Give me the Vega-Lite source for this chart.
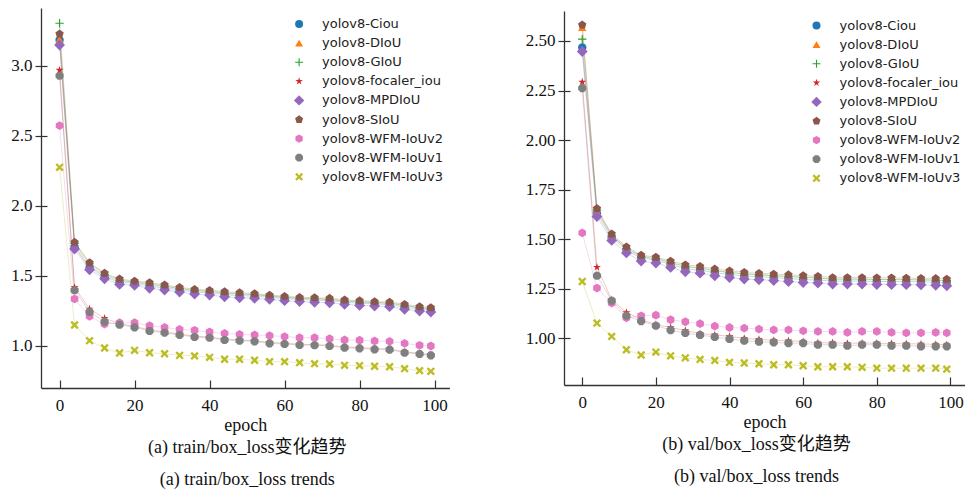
{
"$schema": "https://vega.github.io/schema/vega-lite/v6.json",
"padding": {"left": 10, "top": 8, "right": 0, "bottom": 0},
"spacing": 75,
"center": true,
"config": {
  "view": {"stroke": null},
  "axis": {"labelFont": "Liberation Serif", "labelFontSize": 17, "labelColor": "#111", "titleFont": "Liberation Serif", "titleFontSize": 18, "titleFontWeight": "normal", "titleColor": "#111", "domainColor": "#333", "tickColor": "#333", "domainWidth": 1.3, "tickWidth": 1.2, "grid": false},
  "legend": {"labelFont": "DejaVu Sans", "labelFontSize": 13, "labelColor": "#222", "symbolSize": 64, "rowPadding": 5.1, "padding": 4, "labelOffset": 16.5, "symbolStrokeWidth": 0, "symbolOpacity": 1},
  "title": {"font": "Liberation Serif, Noto Sans CJK SC", "fontSize": 18, "fontWeight": "normal", "color": "#111"}
},
"datasets": {
"train": [
{"s":"yolov8-Ciou","e":0,"v":3.186},{"s":"yolov8-Ciou","e":4,"v":1.708},{"s":"yolov8-Ciou","e":8,"v":1.56},{"s":"yolov8-Ciou","e":12,"v":1.495},{"s":"yolov8-Ciou","e":16,"v":1.455},{"s":"yolov8-Ciou","e":20,"v":1.448},{"s":"yolov8-Ciou","e":24,"v":1.427},{"s":"yolov8-Ciou","e":28,"v":1.415},{"s":"yolov8-Ciou","e":32,"v":1.401},{"s":"yolov8-Ciou","e":36,"v":1.386},{"s":"yolov8-Ciou","e":40,"v":1.379},{"s":"yolov8-Ciou","e":44,"v":1.367},{"s":"yolov8-Ciou","e":48,"v":1.36},{"s":"yolov8-Ciou","e":52,"v":1.356},{"s":"yolov8-Ciou","e":56,"v":1.348},{"s":"yolov8-Ciou","e":60,"v":1.339},{"s":"yolov8-Ciou","e":64,"v":1.332},{"s":"yolov8-Ciou","e":68,"v":1.327},{"s":"yolov8-Ciou","e":72,"v":1.324},{"s":"yolov8-Ciou","e":76,"v":1.313},{"s":"yolov8-Ciou","e":80,"v":1.305},{"s":"yolov8-Ciou","e":84,"v":1.301},{"s":"yolov8-Ciou","e":88,"v":1.296},{"s":"yolov8-Ciou","e":92,"v":1.277},{"s":"yolov8-Ciou","e":96,"v":1.265},{"s":"yolov8-Ciou","e":99,"v":1.258},
{"s":"yolov8-DIoU","e":0,"v":3.19},{"s":"yolov8-DIoU","e":4,"v":1.718},{"s":"yolov8-DIoU","e":8,"v":1.57},{"s":"yolov8-DIoU","e":12,"v":1.505},{"s":"yolov8-DIoU","e":16,"v":1.465},{"s":"yolov8-DIoU","e":20,"v":1.458},{"s":"yolov8-DIoU","e":24,"v":1.437},{"s":"yolov8-DIoU","e":28,"v":1.425},{"s":"yolov8-DIoU","e":32,"v":1.411},{"s":"yolov8-DIoU","e":36,"v":1.396},{"s":"yolov8-DIoU","e":40,"v":1.389},{"s":"yolov8-DIoU","e":44,"v":1.377},{"s":"yolov8-DIoU","e":48,"v":1.37},{"s":"yolov8-DIoU","e":52,"v":1.366},{"s":"yolov8-DIoU","e":56,"v":1.358},{"s":"yolov8-DIoU","e":60,"v":1.349},{"s":"yolov8-DIoU","e":64,"v":1.342},{"s":"yolov8-DIoU","e":68,"v":1.337},{"s":"yolov8-DIoU","e":72,"v":1.334},{"s":"yolov8-DIoU","e":76,"v":1.323},{"s":"yolov8-DIoU","e":80,"v":1.315},{"s":"yolov8-DIoU","e":84,"v":1.311},{"s":"yolov8-DIoU","e":88,"v":1.306},{"s":"yolov8-DIoU","e":92,"v":1.287},{"s":"yolov8-DIoU","e":96,"v":1.275},{"s":"yolov8-DIoU","e":99,"v":1.268},
{"s":"yolov8-GIoU","e":0,"v":3.305},{"s":"yolov8-GIoU","e":4,"v":1.733},{"s":"yolov8-GIoU","e":8,"v":1.587},{"s":"yolov8-GIoU","e":12,"v":1.512},{"s":"yolov8-GIoU","e":16,"v":1.471},{"s":"yolov8-GIoU","e":20,"v":1.456},{"s":"yolov8-GIoU","e":24,"v":1.444},{"s":"yolov8-GIoU","e":28,"v":1.428},{"s":"yolov8-GIoU","e":32,"v":1.411},{"s":"yolov8-GIoU","e":36,"v":1.397},{"s":"yolov8-GIoU","e":40,"v":1.39},{"s":"yolov8-GIoU","e":44,"v":1.38},{"s":"yolov8-GIoU","e":48,"v":1.373},{"s":"yolov8-GIoU","e":52,"v":1.366},{"s":"yolov8-GIoU","e":56,"v":1.356},{"s":"yolov8-GIoU","e":60,"v":1.347},{"s":"yolov8-GIoU","e":64,"v":1.34},{"s":"yolov8-GIoU","e":68,"v":1.337},{"s":"yolov8-GIoU","e":72,"v":1.333},{"s":"yolov8-GIoU","e":76,"v":1.321},{"s":"yolov8-GIoU","e":80,"v":1.316},{"s":"yolov8-GIoU","e":84,"v":1.309},{"s":"yolov8-GIoU","e":88,"v":1.306},{"s":"yolov8-GIoU","e":92,"v":1.29},{"s":"yolov8-GIoU","e":96,"v":1.273},{"s":"yolov8-GIoU","e":99,"v":1.266},
{"s":"yolov8-focaler_iou","e":0,"v":2.97},{"s":"yolov8-focaler_iou","e":4,"v":1.419},{"s":"yolov8-focaler_iou","e":8,"v":1.264},{"s":"yolov8-focaler_iou","e":12,"v":1.198},{"s":"yolov8-focaler_iou","e":16,"v":1.16},{"s":"yolov8-focaler_iou","e":20,"v":1.14},{"s":"yolov8-focaler_iou","e":24,"v":1.115},{"s":"yolov8-focaler_iou","e":28,"v":1.1},{"s":"yolov8-focaler_iou","e":32,"v":1.085},{"s":"yolov8-focaler_iou","e":36,"v":1.07},{"s":"yolov8-focaler_iou","e":40,"v":1.063},{"s":"yolov8-focaler_iou","e":44,"v":1.05},{"s":"yolov8-focaler_iou","e":48,"v":1.043},{"s":"yolov8-focaler_iou","e":52,"v":1.038},{"s":"yolov8-focaler_iou","e":56,"v":1.025},{"s":"yolov8-focaler_iou","e":60,"v":1.02},{"s":"yolov8-focaler_iou","e":64,"v":1.012},{"s":"yolov8-focaler_iou","e":68,"v":1.01},{"s":"yolov8-focaler_iou","e":72,"v":1.005},{"s":"yolov8-focaler_iou","e":76,"v":0.993},{"s":"yolov8-focaler_iou","e":80,"v":0.988},{"s":"yolov8-focaler_iou","e":84,"v":0.982},{"s":"yolov8-focaler_iou","e":88,"v":0.979},{"s":"yolov8-focaler_iou","e":92,"v":0.958},{"s":"yolov8-focaler_iou","e":96,"v":0.947},{"s":"yolov8-focaler_iou","e":99,"v":0.937},
{"s":"yolov8-MPDIoU","e":0,"v":3.15},{"s":"yolov8-MPDIoU","e":4,"v":1.693},{"s":"yolov8-MPDIoU","e":8,"v":1.545},{"s":"yolov8-MPDIoU","e":12,"v":1.48},{"s":"yolov8-MPDIoU","e":16,"v":1.44},{"s":"yolov8-MPDIoU","e":20,"v":1.433},{"s":"yolov8-MPDIoU","e":24,"v":1.412},{"s":"yolov8-MPDIoU","e":28,"v":1.4},{"s":"yolov8-MPDIoU","e":32,"v":1.386},{"s":"yolov8-MPDIoU","e":36,"v":1.371},{"s":"yolov8-MPDIoU","e":40,"v":1.364},{"s":"yolov8-MPDIoU","e":44,"v":1.352},{"s":"yolov8-MPDIoU","e":48,"v":1.345},{"s":"yolov8-MPDIoU","e":52,"v":1.341},{"s":"yolov8-MPDIoU","e":56,"v":1.333},{"s":"yolov8-MPDIoU","e":60,"v":1.324},{"s":"yolov8-MPDIoU","e":64,"v":1.317},{"s":"yolov8-MPDIoU","e":68,"v":1.312},{"s":"yolov8-MPDIoU","e":72,"v":1.309},{"s":"yolov8-MPDIoU","e":76,"v":1.298},{"s":"yolov8-MPDIoU","e":80,"v":1.29},{"s":"yolov8-MPDIoU","e":84,"v":1.286},{"s":"yolov8-MPDIoU","e":88,"v":1.281},{"s":"yolov8-MPDIoU","e":92,"v":1.262},{"s":"yolov8-MPDIoU","e":96,"v":1.25},{"s":"yolov8-MPDIoU","e":99,"v":1.243},
{"s":"yolov8-SIoU","e":0,"v":3.229},{"s":"yolov8-SIoU","e":4,"v":1.741},{"s":"yolov8-SIoU","e":8,"v":1.595},{"s":"yolov8-SIoU","e":12,"v":1.52},{"s":"yolov8-SIoU","e":16,"v":1.479},{"s":"yolov8-SIoU","e":20,"v":1.464},{"s":"yolov8-SIoU","e":24,"v":1.452},{"s":"yolov8-SIoU","e":28,"v":1.436},{"s":"yolov8-SIoU","e":32,"v":1.419},{"s":"yolov8-SIoU","e":36,"v":1.405},{"s":"yolov8-SIoU","e":40,"v":1.398},{"s":"yolov8-SIoU","e":44,"v":1.388},{"s":"yolov8-SIoU","e":48,"v":1.381},{"s":"yolov8-SIoU","e":52,"v":1.374},{"s":"yolov8-SIoU","e":56,"v":1.364},{"s":"yolov8-SIoU","e":60,"v":1.355},{"s":"yolov8-SIoU","e":64,"v":1.348},{"s":"yolov8-SIoU","e":68,"v":1.345},{"s":"yolov8-SIoU","e":72,"v":1.341},{"s":"yolov8-SIoU","e":76,"v":1.329},{"s":"yolov8-SIoU","e":80,"v":1.324},{"s":"yolov8-SIoU","e":84,"v":1.317},{"s":"yolov8-SIoU","e":88,"v":1.314},{"s":"yolov8-SIoU","e":92,"v":1.298},{"s":"yolov8-SIoU","e":96,"v":1.281},{"s":"yolov8-SIoU","e":99,"v":1.274},
{"s":"yolov8-WFM-IoUv2","e":0,"v":2.574},{"s":"yolov8-WFM-IoUv2","e":4,"v":1.336},{"s":"yolov8-WFM-IoUv2","e":8,"v":1.212},{"s":"yolov8-WFM-IoUv2","e":12,"v":1.157},{"s":"yolov8-WFM-IoUv2","e":16,"v":1.166},{"s":"yolov8-WFM-IoUv2","e":20,"v":1.166},{"s":"yolov8-WFM-IoUv2","e":24,"v":1.145},{"s":"yolov8-WFM-IoUv2","e":28,"v":1.133},{"s":"yolov8-WFM-IoUv2","e":32,"v":1.119},{"s":"yolov8-WFM-IoUv2","e":36,"v":1.112},{"s":"yolov8-WFM-IoUv2","e":40,"v":1.1},{"s":"yolov8-WFM-IoUv2","e":44,"v":1.09},{"s":"yolov8-WFM-IoUv2","e":48,"v":1.083},{"s":"yolov8-WFM-IoUv2","e":52,"v":1.079},{"s":"yolov8-WFM-IoUv2","e":56,"v":1.074},{"s":"yolov8-WFM-IoUv2","e":60,"v":1.067},{"s":"yolov8-WFM-IoUv2","e":64,"v":1.059},{"s":"yolov8-WFM-IoUv2","e":68,"v":1.059},{"s":"yolov8-WFM-IoUv2","e":72,"v":1.052},{"s":"yolov8-WFM-IoUv2","e":76,"v":1.043},{"s":"yolov8-WFM-IoUv2","e":80,"v":1.041},{"s":"yolov8-WFM-IoUv2","e":84,"v":1.036},{"s":"yolov8-WFM-IoUv2","e":88,"v":1.033},{"s":"yolov8-WFM-IoUv2","e":92,"v":1.019},{"s":"yolov8-WFM-IoUv2","e":96,"v":1.005},{"s":"yolov8-WFM-IoUv2","e":99,"v":1.0},
{"s":"yolov8-WFM-IoUv1","e":0,"v":2.93},{"s":"yolov8-WFM-IoUv1","e":4,"v":1.398},{"s":"yolov8-WFM-IoUv1","e":8,"v":1.243},{"s":"yolov8-WFM-IoUv1","e":12,"v":1.174},{"s":"yolov8-WFM-IoUv1","e":16,"v":1.152},{"s":"yolov8-WFM-IoUv1","e":20,"v":1.133},{"s":"yolov8-WFM-IoUv1","e":24,"v":1.107},{"s":"yolov8-WFM-IoUv1","e":28,"v":1.095},{"s":"yolov8-WFM-IoUv1","e":32,"v":1.079},{"s":"yolov8-WFM-IoUv1","e":36,"v":1.064},{"s":"yolov8-WFM-IoUv1","e":40,"v":1.059},{"s":"yolov8-WFM-IoUv1","e":44,"v":1.043},{"s":"yolov8-WFM-IoUv1","e":48,"v":1.038},{"s":"yolov8-WFM-IoUv1","e":52,"v":1.033},{"s":"yolov8-WFM-IoUv1","e":56,"v":1.019},{"s":"yolov8-WFM-IoUv1","e":60,"v":1.014},{"s":"yolov8-WFM-IoUv1","e":64,"v":1.007},{"s":"yolov8-WFM-IoUv1","e":68,"v":1.005},{"s":"yolov8-WFM-IoUv1","e":72,"v":1.0},{"s":"yolov8-WFM-IoUv1","e":76,"v":0.988},{"s":"yolov8-WFM-IoUv1","e":80,"v":0.983},{"s":"yolov8-WFM-IoUv1","e":84,"v":0.976},{"s":"yolov8-WFM-IoUv1","e":88,"v":0.974},{"s":"yolov8-WFM-IoUv1","e":92,"v":0.952},{"s":"yolov8-WFM-IoUv1","e":96,"v":0.943},{"s":"yolov8-WFM-IoUv1","e":99,"v":0.933},
{"s":"yolov8-WFM-IoUv3","e":0,"v":2.276},{"s":"yolov8-WFM-IoUv3","e":4,"v":1.15},{"s":"yolov8-WFM-IoUv3","e":8,"v":1.038},{"s":"yolov8-WFM-IoUv3","e":12,"v":0.986},{"s":"yolov8-WFM-IoUv3","e":16,"v":0.95},{"s":"yolov8-WFM-IoUv3","e":20,"v":0.969},{"s":"yolov8-WFM-IoUv3","e":24,"v":0.952},{"s":"yolov8-WFM-IoUv3","e":28,"v":0.945},{"s":"yolov8-WFM-IoUv3","e":32,"v":0.933},{"s":"yolov8-WFM-IoUv3","e":36,"v":0.929},{"s":"yolov8-WFM-IoUv3","e":40,"v":0.919},{"s":"yolov8-WFM-IoUv3","e":44,"v":0.905},{"s":"yolov8-WFM-IoUv3","e":48,"v":0.905},{"s":"yolov8-WFM-IoUv3","e":52,"v":0.898},{"s":"yolov8-WFM-IoUv3","e":56,"v":0.888},{"s":"yolov8-WFM-IoUv3","e":60,"v":0.888},{"s":"yolov8-WFM-IoUv3","e":64,"v":0.881},{"s":"yolov8-WFM-IoUv3","e":68,"v":0.874},{"s":"yolov8-WFM-IoUv3","e":72,"v":0.871},{"s":"yolov8-WFM-IoUv3","e":76,"v":0.862},{"s":"yolov8-WFM-IoUv3","e":80,"v":0.86},{"s":"yolov8-WFM-IoUv3","e":84,"v":0.855},{"s":"yolov8-WFM-IoUv3","e":88,"v":0.852},{"s":"yolov8-WFM-IoUv3","e":92,"v":0.838},{"s":"yolov8-WFM-IoUv3","e":96,"v":0.824},{"s":"yolov8-WFM-IoUv3","e":99,"v":0.819}
],
"val": [
{"s":"yolov8-Ciou","e":0,"v":2.467},{"s":"yolov8-Ciou","e":4,"v":1.63},{"s":"yolov8-Ciou","e":8,"v":1.509},{"s":"yolov8-Ciou","e":12,"v":1.446},{"s":"yolov8-Ciou","e":16,"v":1.405},{"s":"yolov8-Ciou","e":20,"v":1.395},{"s":"yolov8-Ciou","e":24,"v":1.373},{"s":"yolov8-Ciou","e":28,"v":1.351},{"s":"yolov8-Ciou","e":32,"v":1.344},{"s":"yolov8-Ciou","e":36,"v":1.331},{"s":"yolov8-Ciou","e":40,"v":1.322},{"s":"yolov8-Ciou","e":44,"v":1.314},{"s":"yolov8-Ciou","e":48,"v":1.311},{"s":"yolov8-Ciou","e":52,"v":1.307},{"s":"yolov8-Ciou","e":56,"v":1.302},{"s":"yolov8-Ciou","e":60,"v":1.297},{"s":"yolov8-Ciou","e":64,"v":1.294},{"s":"yolov8-Ciou","e":68,"v":1.289},{"s":"yolov8-Ciou","e":72,"v":1.289},{"s":"yolov8-Ciou","e":76,"v":1.289},{"s":"yolov8-Ciou","e":80,"v":1.287},{"s":"yolov8-Ciou","e":84,"v":1.287},{"s":"yolov8-Ciou","e":88,"v":1.286},{"s":"yolov8-Ciou","e":92,"v":1.285},{"s":"yolov8-Ciou","e":96,"v":1.283},{"s":"yolov8-Ciou","e":99,"v":1.28},
{"s":"yolov8-DIoU","e":0,"v":2.568},{"s":"yolov8-DIoU","e":4,"v":1.64},{"s":"yolov8-DIoU","e":8,"v":1.519},{"s":"yolov8-DIoU","e":12,"v":1.456},{"s":"yolov8-DIoU","e":16,"v":1.415},{"s":"yolov8-DIoU","e":20,"v":1.405},{"s":"yolov8-DIoU","e":24,"v":1.383},{"s":"yolov8-DIoU","e":28,"v":1.361},{"s":"yolov8-DIoU","e":32,"v":1.354},{"s":"yolov8-DIoU","e":36,"v":1.341},{"s":"yolov8-DIoU","e":40,"v":1.332},{"s":"yolov8-DIoU","e":44,"v":1.324},{"s":"yolov8-DIoU","e":48,"v":1.321},{"s":"yolov8-DIoU","e":52,"v":1.317},{"s":"yolov8-DIoU","e":56,"v":1.312},{"s":"yolov8-DIoU","e":60,"v":1.307},{"s":"yolov8-DIoU","e":64,"v":1.304},{"s":"yolov8-DIoU","e":68,"v":1.299},{"s":"yolov8-DIoU","e":72,"v":1.299},{"s":"yolov8-DIoU","e":76,"v":1.299},{"s":"yolov8-DIoU","e":80,"v":1.297},{"s":"yolov8-DIoU","e":84,"v":1.297},{"s":"yolov8-DIoU","e":88,"v":1.296},{"s":"yolov8-DIoU","e":92,"v":1.295},{"s":"yolov8-DIoU","e":96,"v":1.293},{"s":"yolov8-DIoU","e":99,"v":1.29},
{"s":"yolov8-GIoU","e":0,"v":2.509},{"s":"yolov8-GIoU","e":4,"v":1.647},{"s":"yolov8-GIoU","e":8,"v":1.519},{"s":"yolov8-GIoU","e":12,"v":1.454},{"s":"yolov8-GIoU","e":16,"v":1.412},{"s":"yolov8-GIoU","e":20,"v":1.402},{"s":"yolov8-GIoU","e":24,"v":1.382},{"s":"yolov8-GIoU","e":28,"v":1.363},{"s":"yolov8-GIoU","e":32,"v":1.355},{"s":"yolov8-GIoU","e":36,"v":1.342},{"s":"yolov8-GIoU","e":40,"v":1.333},{"s":"yolov8-GIoU","e":44,"v":1.325},{"s":"yolov8-GIoU","e":48,"v":1.32},{"s":"yolov8-GIoU","e":52,"v":1.316},{"s":"yolov8-GIoU","e":56,"v":1.313},{"s":"yolov8-GIoU","e":60,"v":1.308},{"s":"yolov8-GIoU","e":64,"v":1.305},{"s":"yolov8-GIoU","e":68,"v":1.299},{"s":"yolov8-GIoU","e":72,"v":1.299},{"s":"yolov8-GIoU","e":76,"v":1.299},{"s":"yolov8-GIoU","e":80,"v":1.297},{"s":"yolov8-GIoU","e":84,"v":1.297},{"s":"yolov8-GIoU","e":88,"v":1.296},{"s":"yolov8-GIoU","e":92,"v":1.295},{"s":"yolov8-GIoU","e":96,"v":1.294},{"s":"yolov8-GIoU","e":99,"v":1.291},
{"s":"yolov8-focaler_iou","e":0,"v":2.293},{"s":"yolov8-focaler_iou","e":4,"v":1.359},{"s":"yolov8-focaler_iou","e":8,"v":1.195},{"s":"yolov8-focaler_iou","e":12,"v":1.131},{"s":"yolov8-focaler_iou","e":16,"v":1.095},{"s":"yolov8-focaler_iou","e":20,"v":1.07},{"s":"yolov8-focaler_iou","e":24,"v":1.055},{"s":"yolov8-focaler_iou","e":28,"v":1.04},{"s":"yolov8-focaler_iou","e":32,"v":1.025},{"s":"yolov8-focaler_iou","e":36,"v":1.018},{"s":"yolov8-focaler_iou","e":40,"v":1.01},{"s":"yolov8-focaler_iou","e":44,"v":1.0},{"s":"yolov8-focaler_iou","e":48,"v":0.995},{"s":"yolov8-focaler_iou","e":52,"v":0.99},{"s":"yolov8-focaler_iou","e":56,"v":0.988},{"s":"yolov8-focaler_iou","e":60,"v":0.985},{"s":"yolov8-focaler_iou","e":64,"v":0.978},{"s":"yolov8-focaler_iou","e":68,"v":0.978},{"s":"yolov8-focaler_iou","e":72,"v":0.975},{"s":"yolov8-focaler_iou","e":76,"v":0.977},{"s":"yolov8-focaler_iou","e":80,"v":0.976},{"s":"yolov8-focaler_iou","e":84,"v":0.974},{"s":"yolov8-focaler_iou","e":88,"v":0.973},{"s":"yolov8-focaler_iou","e":92,"v":0.972},{"s":"yolov8-focaler_iou","e":96,"v":0.97},{"s":"yolov8-focaler_iou","e":99,"v":0.968},
{"s":"yolov8-MPDIoU","e":0,"v":2.447},{"s":"yolov8-MPDIoU","e":4,"v":1.615},{"s":"yolov8-MPDIoU","e":8,"v":1.494},{"s":"yolov8-MPDIoU","e":12,"v":1.431},{"s":"yolov8-MPDIoU","e":16,"v":1.39},{"s":"yolov8-MPDIoU","e":20,"v":1.38},{"s":"yolov8-MPDIoU","e":24,"v":1.358},{"s":"yolov8-MPDIoU","e":28,"v":1.336},{"s":"yolov8-MPDIoU","e":32,"v":1.329},{"s":"yolov8-MPDIoU","e":36,"v":1.316},{"s":"yolov8-MPDIoU","e":40,"v":1.307},{"s":"yolov8-MPDIoU","e":44,"v":1.299},{"s":"yolov8-MPDIoU","e":48,"v":1.296},{"s":"yolov8-MPDIoU","e":52,"v":1.292},{"s":"yolov8-MPDIoU","e":56,"v":1.287},{"s":"yolov8-MPDIoU","e":60,"v":1.282},{"s":"yolov8-MPDIoU","e":64,"v":1.279},{"s":"yolov8-MPDIoU","e":68,"v":1.274},{"s":"yolov8-MPDIoU","e":72,"v":1.274},{"s":"yolov8-MPDIoU","e":76,"v":1.274},{"s":"yolov8-MPDIoU","e":80,"v":1.272},{"s":"yolov8-MPDIoU","e":84,"v":1.272},{"s":"yolov8-MPDIoU","e":88,"v":1.271},{"s":"yolov8-MPDIoU","e":92,"v":1.27},{"s":"yolov8-MPDIoU","e":96,"v":1.268},{"s":"yolov8-MPDIoU","e":99,"v":1.265},
{"s":"yolov8-SIoU","e":0,"v":2.581},{"s":"yolov8-SIoU","e":4,"v":1.655},{"s":"yolov8-SIoU","e":8,"v":1.527},{"s":"yolov8-SIoU","e":12,"v":1.462},{"s":"yolov8-SIoU","e":16,"v":1.42},{"s":"yolov8-SIoU","e":20,"v":1.41},{"s":"yolov8-SIoU","e":24,"v":1.39},{"s":"yolov8-SIoU","e":28,"v":1.371},{"s":"yolov8-SIoU","e":32,"v":1.363},{"s":"yolov8-SIoU","e":36,"v":1.35},{"s":"yolov8-SIoU","e":40,"v":1.341},{"s":"yolov8-SIoU","e":44,"v":1.333},{"s":"yolov8-SIoU","e":48,"v":1.328},{"s":"yolov8-SIoU","e":52,"v":1.324},{"s":"yolov8-SIoU","e":56,"v":1.321},{"s":"yolov8-SIoU","e":60,"v":1.316},{"s":"yolov8-SIoU","e":64,"v":1.313},{"s":"yolov8-SIoU","e":68,"v":1.307},{"s":"yolov8-SIoU","e":72,"v":1.307},{"s":"yolov8-SIoU","e":76,"v":1.307},{"s":"yolov8-SIoU","e":80,"v":1.305},{"s":"yolov8-SIoU","e":84,"v":1.305},{"s":"yolov8-SIoU","e":88,"v":1.304},{"s":"yolov8-SIoU","e":92,"v":1.303},{"s":"yolov8-SIoU","e":96,"v":1.302},{"s":"yolov8-SIoU","e":99,"v":1.299},
{"s":"yolov8-WFM-IoUv2","e":0,"v":1.532},{"s":"yolov8-WFM-IoUv2","e":4,"v":1.254},{"s":"yolov8-WFM-IoUv2","e":8,"v":1.178},{"s":"yolov8-WFM-IoUv2","e":12,"v":1.104},{"s":"yolov8-WFM-IoUv2","e":16,"v":1.114},{"s":"yolov8-WFM-IoUv2","e":20,"v":1.117},{"s":"yolov8-WFM-IoUv2","e":24,"v":1.094},{"s":"yolov8-WFM-IoUv2","e":28,"v":1.084},{"s":"yolov8-WFM-IoUv2","e":32,"v":1.074},{"s":"yolov8-WFM-IoUv2","e":36,"v":1.062},{"s":"yolov8-WFM-IoUv2","e":40,"v":1.055},{"s":"yolov8-WFM-IoUv2","e":44,"v":1.052},{"s":"yolov8-WFM-IoUv2","e":48,"v":1.047},{"s":"yolov8-WFM-IoUv2","e":52,"v":1.043},{"s":"yolov8-WFM-IoUv2","e":56,"v":1.043},{"s":"yolov8-WFM-IoUv2","e":60,"v":1.038},{"s":"yolov8-WFM-IoUv2","e":64,"v":1.035},{"s":"yolov8-WFM-IoUv2","e":68,"v":1.035},{"s":"yolov8-WFM-IoUv2","e":72,"v":1.03},{"s":"yolov8-WFM-IoUv2","e":76,"v":1.035},{"s":"yolov8-WFM-IoUv2","e":80,"v":1.035},{"s":"yolov8-WFM-IoUv2","e":84,"v":1.03},{"s":"yolov8-WFM-IoUv2","e":88,"v":1.028},{"s":"yolov8-WFM-IoUv2","e":92,"v":1.028},{"s":"yolov8-WFM-IoUv2","e":96,"v":1.03},{"s":"yolov8-WFM-IoUv2","e":99,"v":1.028},
{"s":"yolov8-WFM-IoUv1","e":0,"v":2.262},{"s":"yolov8-WFM-IoUv1","e":4,"v":1.316},{"s":"yolov8-WFM-IoUv1","e":8,"v":1.19},{"s":"yolov8-WFM-IoUv1","e":12,"v":1.114},{"s":"yolov8-WFM-IoUv1","e":16,"v":1.087},{"s":"yolov8-WFM-IoUv1","e":20,"v":1.064},{"s":"yolov8-WFM-IoUv1","e":24,"v":1.042},{"s":"yolov8-WFM-IoUv1","e":28,"v":1.027},{"s":"yolov8-WFM-IoUv1","e":32,"v":1.017},{"s":"yolov8-WFM-IoUv1","e":36,"v":1.007},{"s":"yolov8-WFM-IoUv1","e":40,"v":0.997},{"s":"yolov8-WFM-IoUv1","e":44,"v":0.988},{"s":"yolov8-WFM-IoUv1","e":48,"v":0.983},{"s":"yolov8-WFM-IoUv1","e":52,"v":0.98},{"s":"yolov8-WFM-IoUv1","e":56,"v":0.976},{"s":"yolov8-WFM-IoUv1","e":60,"v":0.976},{"s":"yolov8-WFM-IoUv1","e":64,"v":0.968},{"s":"yolov8-WFM-IoUv1","e":68,"v":0.968},{"s":"yolov8-WFM-IoUv1","e":72,"v":0.963},{"s":"yolov8-WFM-IoUv1","e":76,"v":0.968},{"s":"yolov8-WFM-IoUv1","e":80,"v":0.968},{"s":"yolov8-WFM-IoUv1","e":84,"v":0.963},{"s":"yolov8-WFM-IoUv1","e":88,"v":0.963},{"s":"yolov8-WFM-IoUv1","e":92,"v":0.96},{"s":"yolov8-WFM-IoUv1","e":96,"v":0.96},{"s":"yolov8-WFM-IoUv1","e":99,"v":0.96},
{"s":"yolov8-WFM-IoUv3","e":0,"v":1.287},{"s":"yolov8-WFM-IoUv3","e":4,"v":1.077},{"s":"yolov8-WFM-IoUv3","e":8,"v":1.01},{"s":"yolov8-WFM-IoUv3","e":12,"v":0.943},{"s":"yolov8-WFM-IoUv3","e":16,"v":0.916},{"s":"yolov8-WFM-IoUv3","e":20,"v":0.931},{"s":"yolov8-WFM-IoUv3","e":24,"v":0.912},{"s":"yolov8-WFM-IoUv3","e":28,"v":0.902},{"s":"yolov8-WFM-IoUv3","e":32,"v":0.894},{"s":"yolov8-WFM-IoUv3","e":36,"v":0.889},{"s":"yolov8-WFM-IoUv3","e":40,"v":0.879},{"s":"yolov8-WFM-IoUv3","e":44,"v":0.876},{"s":"yolov8-WFM-IoUv3","e":48,"v":0.872},{"s":"yolov8-WFM-IoUv3","e":52,"v":0.867},{"s":"yolov8-WFM-IoUv3","e":56,"v":0.867},{"s":"yolov8-WFM-IoUv3","e":60,"v":0.862},{"s":"yolov8-WFM-IoUv3","e":64,"v":0.857},{"s":"yolov8-WFM-IoUv3","e":68,"v":0.857},{"s":"yolov8-WFM-IoUv3","e":72,"v":0.857},{"s":"yolov8-WFM-IoUv3","e":76,"v":0.854},{"s":"yolov8-WFM-IoUv3","e":80,"v":0.85},{"s":"yolov8-WFM-IoUv3","e":84,"v":0.85},{"s":"yolov8-WFM-IoUv3","e":88,"v":0.85},{"s":"yolov8-WFM-IoUv3","e":92,"v":0.85},{"s":"yolov8-WFM-IoUv3","e":96,"v":0.85},{"s":"yolov8-WFM-IoUv3","e":99,"v":0.845}
]
},
"hconcat": [
{
  "width": 408.4, "height": 380,
  "data": {"name": "train"},
  "title": {"text": ["(a) train/box_loss变化趋势", "(a) train/box_loss trends"], "orient": "bottom", "anchor": "middle", "dx": 2, "offset": 5, "lineHeight": 32},
  "encoding": {
    "x": {"field": "e", "type": "quantitative", "scale": {"domain": [-4.95, 103.95], "nice": false, "zero": false}, "axis": {"values": [0, 20, 40, 60, 80, 100], "title": "epoch", "tickSize": -8, "labelPadding": 17, "titlePadding": 3}},
    "y": {"field": "v", "type": "quantitative", "scale": {"domain": [0.7, 3.414], "nice": false, "zero": false}, "axis": {"values": [1.0, 1.5, 2.0, 2.5, 3.0], "format": ".1f", "title": null, "tickSize": 6, "labelPadding": 3, "orient": "left"}},
    "color": {"field": "s", "type": "nominal", "sort": null,
      "scale": {"domain": ["yolov8-Ciou","yolov8-DIoU","yolov8-GIoU","yolov8-focaler_iou","yolov8-MPDIoU","yolov8-SIoU","yolov8-WFM-IoUv2","yolov8-WFM-IoUv1","yolov8-WFM-IoUv3"],
                "range": ["#1f77b4","#ff7f0e","#2ca02c","#d62728","#9467bd","#8c564b","#e377c2","#7f7f7f","#bcbd22"]},
      "legend": {"title": null, "orient": "none", "legendX": 247.6, "legendY": 5.5}}
  },
  "layer": [
    {"mark": {"type": "line", "opacity": 0.28, "strokeWidth": 1},
     "encoding": {"y": {"field": "v", "type": "quantitative", "scale": {"domain": [0.7, 3.414], "nice": false, "zero": false}, "axis": {"values": [1.0, 1.5, 2.0, 2.5, 3.0], "title": null, "tickSize": -6, "labels": false, "domain": false, "orient": "left"}}}},
    {"mark": {"type": "point", "filled": true, "opacity": 1, "size": 70},
     "encoding": {"shape": {"field": "s", "type": "nominal", "sort": null,
       "scale": {"domain": ["yolov8-Ciou","yolov8-DIoU","yolov8-GIoU","yolov8-focaler_iou","yolov8-MPDIoU","yolov8-SIoU","yolov8-WFM-IoUv2","yolov8-WFM-IoUv1","yolov8-WFM-IoUv3"],
                 "range": ["circle","triangle-up","M-1,-0.14H-0.14V-1H0.14V-0.14H1V0.14H0.14V1H-0.14V0.14H-1Z","M0,-1L0.225,-0.309L0.951,-0.309L0.363,0.118L0.588,0.809L0,0.382L-0.588,0.809L-0.363,0.118L-0.951,-0.309L-0.225,-0.309Z","M-1.3,0L0,-1.3L1.3,0L0,1.3Z","M0,-1.05L1,-0.325L0.617,0.85L-0.617,0.85L-1,-0.325Z","M0,-1.05L0.91,-0.525L0.91,0.525L0,1.05L-0.91,0.525L-0.91,-0.525Z","M0.4,-0.97L0.97,-0.4L0.97,0.4L0.4,0.97L-0.4,0.97L-0.97,0.4L-0.97,-0.4L-0.4,-0.97Z","M-1,-0.6L-0.6,-1L0,-0.4L0.6,-1L1,-0.6L0.4,0L1,0.6L0.6,1L0,0.4L-0.6,1L-1,0.6L-0.4,0Z"]},
       "legend": {"title": null, "orient": "none", "legendX": 247.6, "legendY": 5.5}}}}
  ],
  "resolve": {"axis": {"y": "independent"}}
},
{
  "width": 401, "height": 374,
  "data": {"name": "val"},
  "title": {"text": ["(b) val/box_loss变化趋势", "(b) val/box_loss trends"], "orient": "bottom", "anchor": "middle", "dx": -8, "offset": 5, "lineHeight": 32},
  "encoding": {
    "x": {"field": "e", "type": "quantitative", "scale": {"domain": [-4.95, 103.95], "nice": false, "zero": false}, "axis": {"values": [0, 20, 40, 60, 80, 100], "title": "epoch", "tickSize": -8, "labelPadding": 17, "titlePadding": 3}},
    "y": {"field": "v", "type": "quantitative", "scale": {"domain": [0.765, 2.651], "nice": false, "zero": false}, "axis": {"values": [1.0, 1.25, 1.5, 1.75, 2.0, 2.25, 2.5], "format": ".2f", "title": null, "tickSize": 6, "labelPadding": 3, "orient": "left"}},
    "color": {"field": "s", "type": "nominal", "sort": null,
      "scale": {"domain": ["yolov8-Ciou","yolov8-DIoU","yolov8-GIoU","yolov8-focaler_iou","yolov8-MPDIoU","yolov8-SIoU","yolov8-WFM-IoUv2","yolov8-WFM-IoUv1","yolov8-WFM-IoUv3"],
                "range": ["#1f77b4","#ff7f0e","#2ca02c","#d62728","#9467bd","#8c564b","#e377c2","#7f7f7f","#bcbd22"]},
      "legend": {"title": null, "orient": "none", "legendX": 242, "legendY": 4}}
  },
  "layer": [
    {"mark": {"type": "line", "opacity": 0.28, "strokeWidth": 1},
     "encoding": {"y": {"field": "v", "type": "quantitative", "scale": {"domain": [0.765, 2.651], "nice": false, "zero": false}, "axis": {"values": [1.0, 1.25, 1.5, 1.75, 2.0, 2.25, 2.5], "title": null, "tickSize": -6, "labels": false, "domain": false, "orient": "left"}}}},
    {"mark": {"type": "point", "filled": true, "opacity": 1, "size": 70},
     "encoding": {"shape": {"field": "s", "type": "nominal", "sort": null,
       "scale": {"domain": ["yolov8-Ciou","yolov8-DIoU","yolov8-GIoU","yolov8-focaler_iou","yolov8-MPDIoU","yolov8-SIoU","yolov8-WFM-IoUv2","yolov8-WFM-IoUv1","yolov8-WFM-IoUv3"],
                 "range": ["circle","triangle-up","M-1,-0.14H-0.14V-1H0.14V-0.14H1V0.14H0.14V1H-0.14V0.14H-1Z","M0,-1L0.225,-0.309L0.951,-0.309L0.363,0.118L0.588,0.809L0,0.382L-0.588,0.809L-0.363,0.118L-0.951,-0.309L-0.225,-0.309Z","M-1.3,0L0,-1.3L1.3,0L0,1.3Z","M0,-1.05L1,-0.325L0.617,0.85L-0.617,0.85L-1,-0.325Z","M0,-1.05L0.91,-0.525L0.91,0.525L0,1.05L-0.91,0.525L-0.91,-0.525Z","M0.4,-0.97L0.97,-0.4L0.97,0.4L0.4,0.97L-0.4,0.97L-0.97,0.4L-0.97,-0.4L-0.4,-0.97Z","M-1,-0.6L-0.6,-1L0,-0.4L0.6,-1L1,-0.6L0.4,0L1,0.6L0.6,1L0,0.4L-0.6,1L-1,0.6L-0.4,0Z"]},
       "legend": {"title": null, "orient": "none", "legendX": 242, "legendY": 4}}}}
  ],
  "resolve": {"axis": {"y": "independent"}}
}
],
"resolve": {"scale": {"x": "independent", "y": "independent", "color": "independent", "shape": "independent"}, "legend": {"color": "independent", "shape": "independent"}}
}
